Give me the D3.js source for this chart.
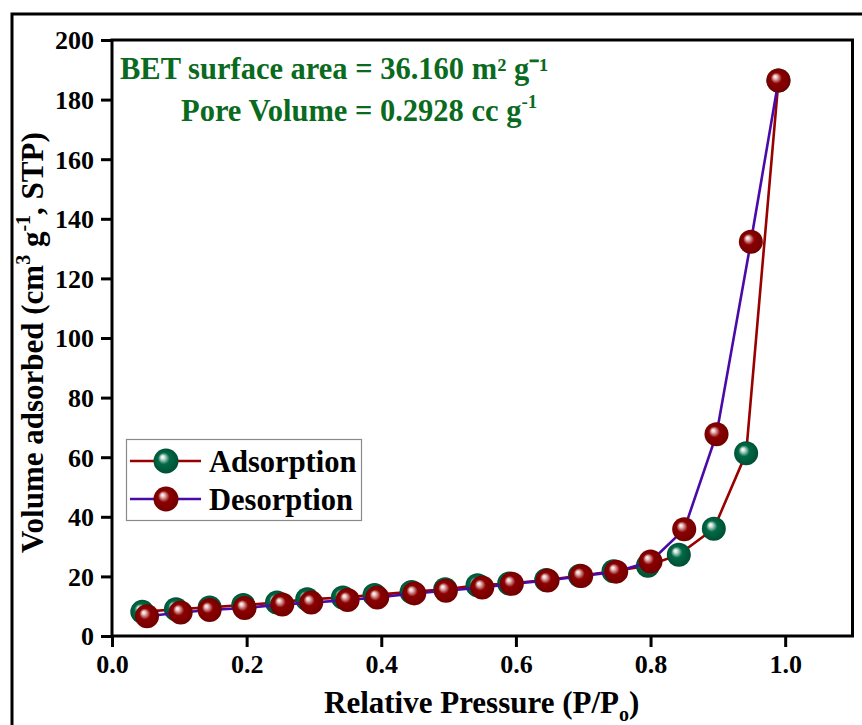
<!DOCTYPE html>
<html>
<head>
<meta charset="utf-8">
<script src="https://cdn.jsdelivr.net/npm/d3@7"></script>
<style>
  html, body { margin: 0; padding: 0; background: #fff; }
  svg { display: block; }
  text { font-family: "Liberation Serif", "Times New Roman", serif; font-weight: bold; }
</style>
</head>
<body>
<svg id="chart" width="862" height="725"></svg>
<script>
// ---- data ----
const adsX = [0.045, 0.095, 0.145, 0.195, 0.245, 0.29, 0.343, 0.39, 0.445, 0.495, 0.543, 0.59, 0.645, 0.695, 0.745, 0.796, 0.842, 0.894, 0.942, 0.99];
const adsY = [8.1, 9.0, 9.6, 10.4, 11.2, 12.3, 12.9, 13.8, 14.8, 15.7, 17.0, 17.6, 18.8, 20.2, 21.7, 23.6, 27.3, 36.0, 61.3, 186.4];
const desX = [0.99, 0.949, 0.898, 0.85, 0.80, 0.749, 0.697, 0.647, 0.594, 0.55, 0.496, 0.449, 0.394, 0.35, 0.296, 0.253, 0.197, 0.145, 0.102, 0.052];
const desY = [186.4, 132.3, 67.7, 35.8, 25.0, 21.6, 20.1, 18.6, 17.5, 16.3, 15.2, 14.3, 12.9, 12.1, 11.2, 10.6, 9.4, 8.7, 7.9, 6.6];
const xTicks = [0.0, 0.2, 0.4, 0.6, 0.8, 1.0];
const yTicks = [0, 20, 40, 60, 80, 100, 120, 140, 160, 180, 200];
const seriesNames = ["Adsorption", "Desorption"];

const ads = adsX.map((x, i) => ({x, y: adsY[i]}));
const des = desX.map((x, i) => ({x, y: desY[i]}));

const svg = d3.select("#chart");
const L = 112, R = 852.5, T = 40, B = 636;
const x = d3.scaleLinear().domain([0, 1.1]).range([L, R]);
const y = d3.scaleLinear().domain([0, 200]).range([B, T]);

// gradients
const defs = svg.append("defs");
function sphere(id, light, mid, dark) {
  const g = defs.append("radialGradient").attr("id", id)
    .attr("cx", "50%").attr("cy", "50%").attr("r", "55%")
    .attr("fx", "35%").attr("fy", "33%");
  g.append("stop").attr("offset", "0%").attr("stop-color", "#ffffff");
  g.append("stop").attr("offset", "13%").attr("stop-color", light);
  g.append("stop").attr("offset", "42%").attr("stop-color", mid);
  g.append("stop").attr("offset", "100%").attr("stop-color", dark);
}
sphere("gGreen", "#d5e6de", "#006a47", "#004a30");
sphere("gRed", "#ecc8c8", "#8c0000", "#6e0000");

// outer frame
svg.append("rect").attr("x", 12).attr("y", 14).attr("width", 900).attr("height", 800)
  .attr("fill", "none").attr("stroke", "#000").attr("stroke-width", 3);

// axes
const xAxis = d3.axisBottom(x).tickValues(xTicks).tickFormat(d3.format(".1f")).tickSize(11).tickSizeOuter(0).tickPadding(8);
const yAxis = d3.axisLeft(y).tickValues(yTicks).tickFormat(d3.format("d")).tickSize(11).tickSizeOuter(0).tickPadding(7);
const gx = svg.append("g").attr("transform", `translate(0,${B})`).call(xAxis);
const gy = svg.append("g").attr("transform", `translate(${L},0)`).call(yAxis);
[gx, gy].forEach(g => {
  g.attr("font-size", null).attr("font-family", null);
  g.select(".domain").remove();
  g.selectAll(".tick line").attr("stroke", "#000").attr("stroke-width", 3);
  g.selectAll(".tick text").attr("fill", "#000").style("font-size", "26px");
});
gy.selectAll(".tick text").attr("dy", "0.34em");

// plot frame
svg.append("rect").attr("x", L).attr("y", T).attr("width", R - L).attr("height", B - T)
  .attr("fill", "none").attr("stroke", "#000").attr("stroke-width", 3);

// lines & markers
const line = d3.line().x(d => x(d.x)).y(d => y(d.y));
const adsLine = "#990000", desLine = "#4a0aa8";
svg.append("path").datum(ads).attr("d", line).attr("fill", "none").attr("stroke", adsLine).attr("stroke-width", 2.6);
svg.append("g").selectAll("circle").data(ads).join("circle")
  .attr("cx", d => x(d.x)).attr("cy", d => y(d.y)).attr("r", 12).attr("fill", "url(#gGreen)");
svg.append("path").datum(des).attr("d", line).attr("fill", "none").attr("stroke", desLine).attr("stroke-width", 2.6);
svg.append("g").selectAll("circle").data(des).join("circle")
  .attr("cx", d => x(d.x)).attr("cy", d => y(d.y)).attr("r", 12).attr("fill", "url(#gRed)");

// legend
const lg = svg.append("g");
lg.append("rect").attr("x", 126.5).attr("y", 439.5).attr("width", 235).attr("height", 81)
  .attr("fill", "#fff").attr("stroke", "#8a8a8a").attr("stroke-width", 1.2);
const legItems = [
  {name: seriesNames[0], line: adsLine, fill: "url(#gGreen)", cy: 461},
  {name: seriesNames[1], line: desLine, fill: "url(#gRed)", cy: 499}
];
legItems.forEach(it => {
  lg.append("line").attr("x1", 130).attr("x2", 201).attr("y1", it.cy).attr("y2", it.cy)
    .attr("stroke", it.line).attr("stroke-width", 2.4);
  lg.append("circle").attr("cx", 166).attr("cy", it.cy).attr("r", 12.5).attr("fill", it.fill);
  lg.append("text").attr("x", 209).attr("y", it.cy + 10.5).style("font-size", "30.5px").attr("fill", "#000").text(it.name);
});

// annotation
const green = "#0a6a1e";
svg.append("text").attr("x", 120).attr("y", 79).attr("fill", green).style("font-size", "30.5px")
  .text("BET surface area = 36.160 m² g⁻¹");
const t2 = svg.append("text").attr("x", 181).attr("y", 121).attr("fill", green).style("font-size", "30.5px");
t2.append("tspan").text("Pore Volume = 0.2928 cc g");
t2.append("tspan").attr("dy", -13).style("font-size", "19px").text("-1");

// x label
const xl = svg.append("text").attr("x", 324).attr("y", 713).attr("fill", "#000").style("font-size", "31px");
xl.append("tspan").text("Relative Pressure (P/P");
xl.append("tspan").attr("dy", 8).style("font-size", "20px").text("o");
xl.append("tspan").attr("dy", -8).text(")");

// y label
const yl = svg.append("text").attr("transform", "translate(43,553) rotate(-90)").attr("fill", "#000").style("font-size", "31px");
yl.append("tspan").text("Volume adsorbed (cm");
yl.append("tspan").attr("dy", -13).style("font-size", "20px").text("3");
yl.append("tspan").attr("dy", 13).text(" g");
yl.append("tspan").attr("dy", -13).style("font-size", "20px").text("-1");
yl.append("tspan").attr("dy", 13).text(", STP)");
</script>
</body>
</html>
